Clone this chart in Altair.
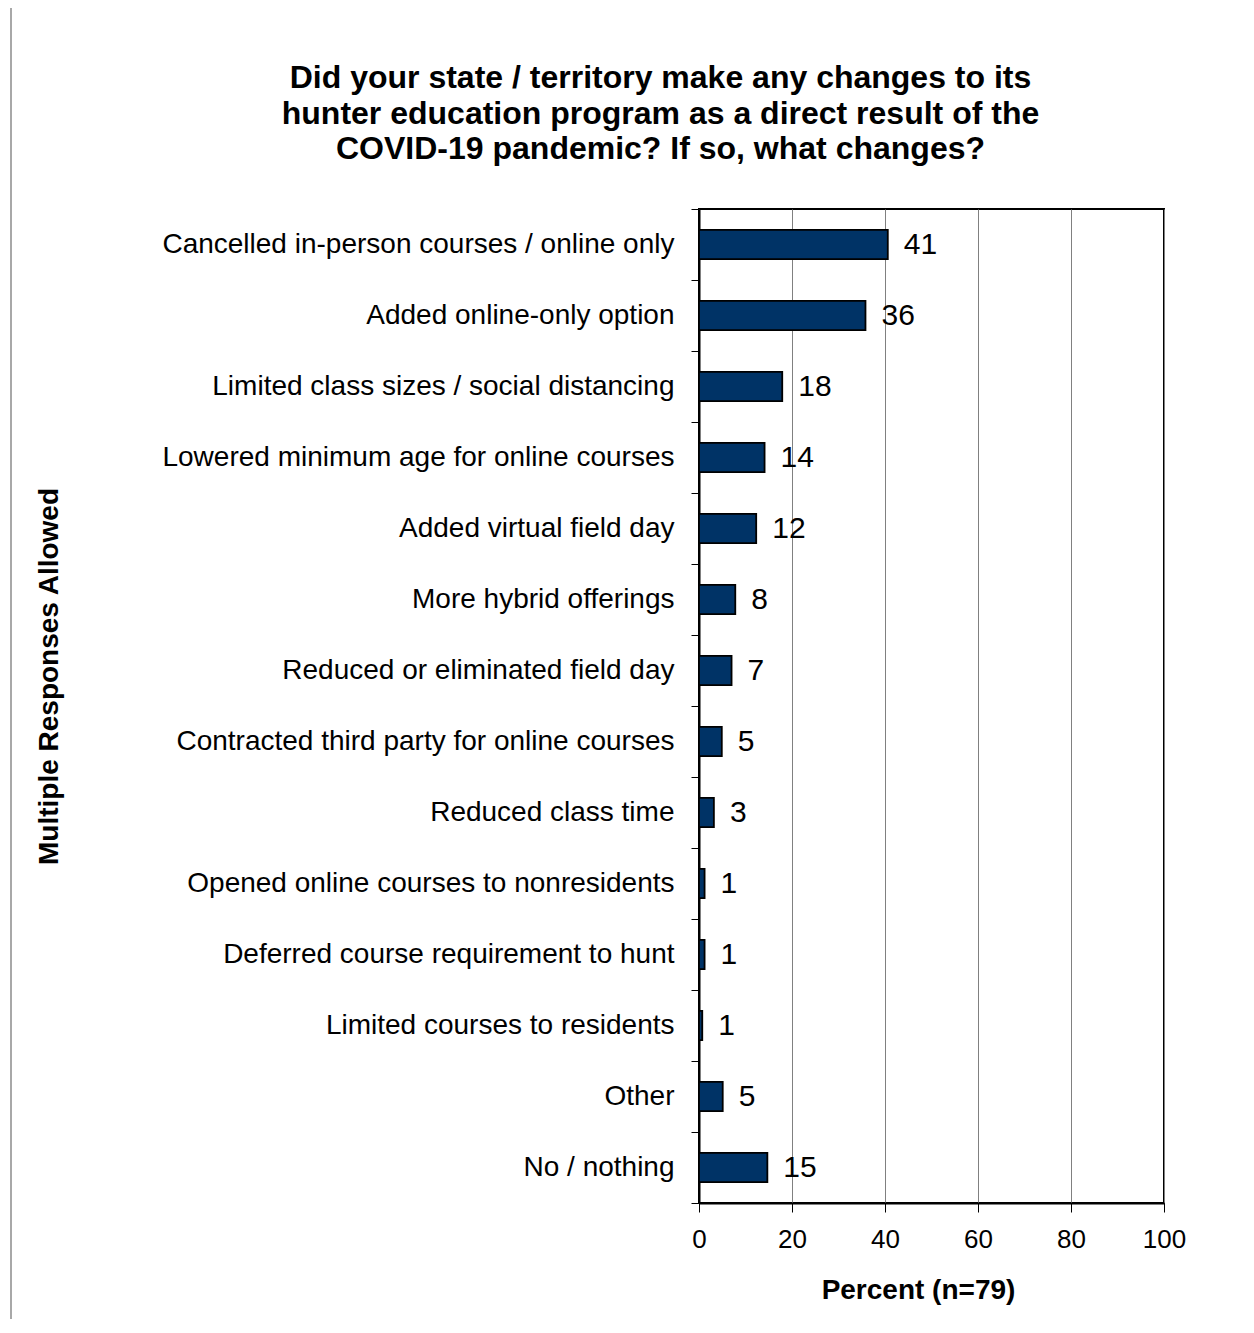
import altair as alt
import pandas as pd

categories = [
    "Cancelled in-person courses / online only",
    "Added online-only option",
    "Limited class sizes / social distancing",
    "Lowered minimum age for online courses",
    "Added virtual field day",
    "More hybrid offerings",
    "Reduced or eliminated field day",
    "Contracted third party for online courses",
    "Reduced class time",
    "Opened online courses to nonresidents",
    "Deferred course requirement to hunt",
    "Limited courses to residents",
    "Other",
    "No / nothing",
]
values = [40.6, 35.8, 17.9, 14.1, 12.3, 7.8, 7.0, 4.9, 3.2, 1.2, 1.2, 0.7, 5.1, 14.7]
value_labels = ["41", "36", "18", "14", "12", "8", "7", "5", "3", "1", "1", "1", "5", "15"]
title_lines = [
    "Did your state / territory make any changes to its",
    "hunter education program as a direct result of the",
    "COVID-19 pandemic? If so, what changes?",
]
x_ticks = [0, 20, 40, 60, 80, 100]

df = pd.DataFrame({"category": categories, "value": values, "label": value_labels})

FONT = "Liberation Sans"
W, H = 465, 994
BAR = "#003366"

y_enc = alt.Y(
    "category:N",
    sort=categories,
    scale=alt.Scale(paddingInner=0, paddingOuter=0),
    axis=alt.Axis(
        title="Multiple Responses Allowed",
        labelFontSize=28, labelFont=FONT, labelColor="black", labelPadding=17, labelLimit=0,
        tickSize=8, tickColor="black", tickWidth=1, tickBand="extent",
        domainColor="black", domainWidth=2,
        titleFontSize=28, titleFont=FONT, titleFontWeight="bold", titleColor="black",
        titleX=-650, titleY=467, titleAngle=270, titleAlign="center", titleBaseline="middle",
    ),
)
x_enc = alt.X(
    "value:Q",
    scale=alt.Scale(domain=[0, 100], nice=False),
    axis=alt.Axis(
        values=x_ticks, title="Percent (n=79)",
        grid=True, gridColor="#808080", gridWidth=1,
        labelFontSize=26, labelFont=FONT, labelColor="black", labelPadding=14, labelFlush=False,
        tickSize=9, tickColor="black", tickWidth=1,
        domainColor="black", domainWidth=2,
        titleFontSize=28, titleFont=FONT, titleFontWeight="bold", titleColor="black",
        titleX=219, titleY=87, titleAlign="center", titleBaseline="middle",
    ),
)

frame = alt.Chart(pd.DataFrame({"k": [0]})).mark_rect(
    fill=None, stroke="#8c8c8c", strokeWidth=1.5, clip=False
).encode(
    x=alt.value(-688), x2=alt.value(700),
    y=alt.value(-202), y2=alt.value(1300),
)

bars = alt.Chart(df).mark_bar(
    color=BAR, stroke="black", strokeWidth=1.8, height=alt.RelativeBandSize(0.41)
).encode(x=x_enc, y=y_enc)

texts = alt.Chart(df).mark_text(
    align="left", baseline="middle", dx=16, fontSize=30, font=FONT, color="black"
).encode(
    x=alt.X("value:Q"), y=alt.Y("category:N", sort=categories), text="label:N"
)

chart = alt.layer(frame, bars, texts).properties(
    width=W, height=H,
    background="white",
    title=alt.TitleParams(
        text=title_lines, fontSize=32, font=FONT, fontWeight="bold", color="black",
        anchor="middle", frame="group", dx=-271, offset=0, dy=160, lineHeight=35.5,
    ),
    autosize=alt.AutoSizeParams(type="none"),
    padding={"left": 691, "top": 201, "right": 74, "bottom": 116},
).configure_view(
    stroke="black", strokeWidth=2
)

chart.save("out.html", embed_options={"renderer": "svg", "actions": False})
